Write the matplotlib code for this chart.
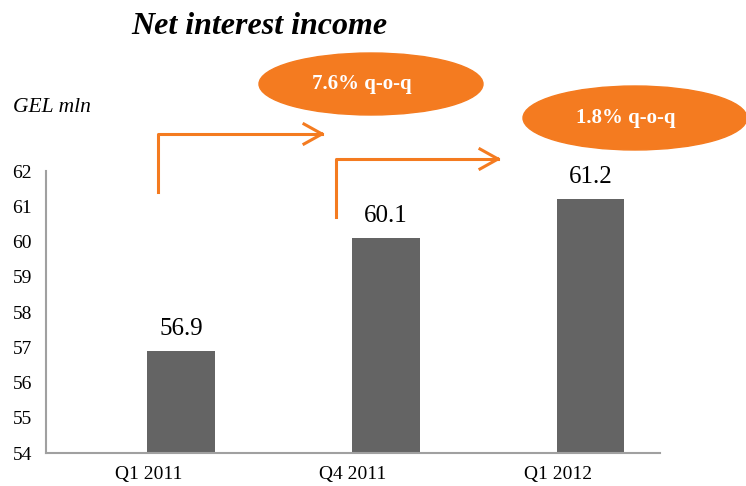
import matplotlib.pyplot as plt
from matplotlib.patches import Ellipse
from matplotlib.lines import Line2D

# data
quarters = ['Q1 2011', 'Q4 2011', 'Q1 2012']
income = [56.9, 60.1, 61.2]
growth_labels = ['7.6% q-o-q', '1.8% q-o-q']

orange = '#F47B20'
bar_col = '#646464'
plt.rcParams['font.family'] = ['Liberation Serif', 'DejaVu Serif']

W, H = 746, 486
fig = plt.figure(figsize=(W / 100, H / 100), dpi=100)
ax = fig.add_axes([46 / W, 1 - 453 / H, 614 / W, 282 / H])

pos = range(len(quarters))
bars = ax.bar([p + 0.16 for p in pos], income, width=0.33, color=bar_col, bottom=0)
ax.set_ylim(54, 62)
ax.set_xlim(-0.5, 2.5)
ax.set_yticks(range(54, 63))
ax.set_xticks(list(pos))
ax.set_xticklabels(quarters, fontsize=14)
ax.tick_params(axis='y', labelsize=14, length=0, pad=10)
ax.tick_params(axis='x', length=0, pad=9)
for s in ['top', 'right']:
    ax.spines[s].set_visible(False)
for s in ['left', 'bottom']:
    ax.spines[s].set_color('#a0a0a0')
    ax.spines[s].set_linewidth(1.5)

for b, v in zip(bars, income):
    ax.annotate(f'{v:.1f}', (b.get_x() + b.get_width() / 2, v), xytext=(0, 8),
                textcoords='offset points', ha='center', va='bottom', fontsize=18)

fig.text(259 / W, 1 - 27 / H, 'Net interest income', ha='center', va='center',
         fontsize=23, fontweight='bold', style='italic')
fig.text(13 / W, 1 - 107 / H, 'GEL mln', ha='left', va='center', fontsize=15.5, style='italic')


def px(x, y):
    return x / W, 1 - y / H


def bent_arrow(x0, y0, y1, x1):
    xs, ys = zip(*[px(x0, y0), px(x0, y1), px(x1, y1)])
    fig.add_artist(Line2D(xs, ys, color=orange, lw=2.2))
    for dy in (-10, 10):
        xs, ys = zip(*[px(x1 - 18, y1 + dy), px(x1, y1)])
        fig.add_artist(Line2D(xs, ys, color=orange, lw=2.2))


bent_arrow(158, 192, 134, 322)
bent_arrow(336, 217, 159, 498)

for (cx, cy, w, h), txt in zip([(371, 84, 224, 62), (635, 118, 224, 64)], growth_labels):
    x, y = px(cx, cy)
    fig.add_artist(Ellipse((x, y), w / W, h / H, color=orange, transform=fig.transFigure))
    fig.text(x - 9 / W, y, txt, ha='center', va='center', color='white', fontsize=15,
             fontweight='bold')

fig.savefig('out.png', dpi=100)
